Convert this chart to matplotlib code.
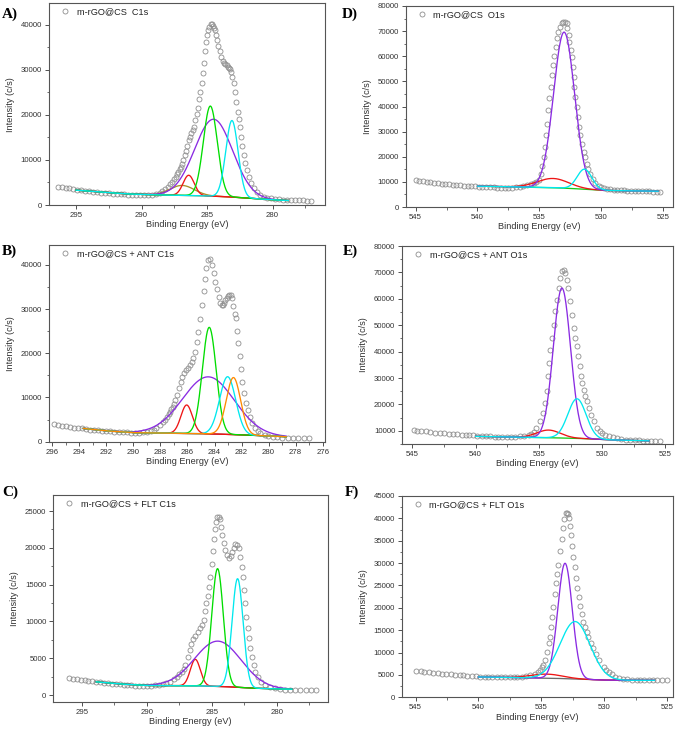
import numpy as np
import matplotlib.pyplot as plt
from matplotlib.ticker import MultipleLocator

plt.rcParams['font.family'] = ['Liberation Sans', 'DejaVu Sans']

# ---------------- A) m-rGO@CS C1s ----------------
a_data = [(296.4, 4100), (296.1, 4000), (295.8, 3850), (295.5, 3700), (295.2, 3550), (294.9, 3400),
          (294.6, 3250), (294.3, 3150), (294.0, 3050), (293.7, 2950), (293.4, 2850), (293.1, 2750),
          (292.8, 2650), (292.5, 2580), (292.2, 2500), (291.9, 2450), (291.6, 2400), (291.3, 2350),
          (291.0, 2300), (290.7, 2250), (290.4, 2220), (290.1, 2200), (289.8, 2200), (289.5, 2230),
          (289.2, 2300), (288.9, 2450), (288.6, 2700), (288.4, 3050), (288.2, 3500), (288.0, 4100),
          (287.85, 4600), (287.7, 5200), (287.55, 5800), (287.4, 6300), (287.3, 6900), (287.2, 7400),
          (287.1, 7950), (287.0, 8500), (286.9, 9200), (286.8, 10000), (286.7, 11000), (286.6, 12000),
          (286.5, 13000), (286.4, 14400), (286.3, 15200), (286.2, 15900), (286.1, 16700), (286.0, 17400),
          (285.9, 18800), (285.8, 20200), (285.7, 21500), (285.6, 23500), (285.5, 25000), (285.4, 27000),
          (285.32, 29300), (285.25, 31600), (285.15, 34100), (285.05, 36100), (284.97, 37800),
          (284.9, 38900), (284.82, 39600), (284.73, 40200), (284.65, 40100), (284.57, 39800),
          (284.5, 39300), (284.42, 38800), (284.34, 37800), (284.24, 36700), (284.14, 35300),
          (284.04, 34100), (283.92, 32900), (283.81, 31900), (283.7, 31600), (283.6, 31300),
          (283.5, 31000), (283.43, 30700), (283.35, 30400), (283.27, 30100), (283.17, 29500),
          (283.07, 28500), (282.97, 27000), (282.87, 25000), (282.77, 22900), (282.66, 20700),
          (282.58, 19000), (282.51, 17400), (282.41, 15200), (282.31, 13000), (282.2, 11000),
          (282.08, 9260), (281.95, 7700), (281.82, 6300), (281.63, 4800), (281.44, 3700), (281.2, 2900),
          (280.95, 2300), (280.68, 1850), (280.4, 1600), (280.1, 1450), (279.8, 1350), (279.5, 1280),
          (279.2, 1200), (278.9, 1130), (278.6, 1100), (278.3, 1060), (278.0, 1030), (277.7, 1000),
          (277.4, 980), (277.1, 960)]
a_bg_be = [295.0, 293.0, 291.0, 289.0, 287.0, 285.5, 284.0, 283.0, 282.0, 281.0, 280.0, 278.8]
a_bg = [3300, 2850, 2450, 2250, 2150, 2050, 1900, 1750, 1550, 1350, 1150, 1000]
a_center = [286.9, 286.4, 284.5, 284.75, 283.1]
a_height = [2200, 4500, 17100, 20000, 17000]
a_fwhm = [2.2, 1.0, 3.4, 1.25, 1.1]

# ---------------- B) m-rGO@CS + ANT C1s ----------------
b_data = [(295.9, 3900), (295.6, 3750), (295.3, 3600), (295.0, 3450), (294.7, 3350), (294.4, 3200),
          (294.1, 3100), (293.8, 3000), (293.5, 2900), (293.2, 2750), (292.9, 2650), (292.6, 2550),
          (292.3, 2450), (292.0, 2400), (291.7, 2340), (291.4, 2280), (291.1, 2200), (290.8, 2150),
          (290.5, 2100), (290.2, 2050), (289.9, 2040), (289.6, 2060), (289.3, 2120), (289.0, 2200),
          (288.7, 2450), (288.5, 2700), (288.3, 3000), (288.05, 3700), (287.8, 4500), (287.65, 5000),
          (287.5, 5660), (287.4, 6200), (287.3, 6800), (287.2, 7300), (287.1, 7900), (287.0, 8600),
          (286.9, 9400), (286.75, 10600), (286.6, 12100), (286.5, 13600), (286.4, 14700),
          (286.25, 15500), (286.1, 16200), (285.95, 16600), (285.8, 17400), (285.7, 18000),
          (285.6, 18900), (285.45, 20400), (285.3, 22600), (285.2, 24900), (285.1, 27700),
          (284.95, 30900), (284.8, 34000), (284.7, 36800), (284.6, 39200), (284.5, 41000),
          (284.35, 41300), (284.2, 40000), (284.05, 38100), (283.95, 36200), (283.85, 34500),
          (283.7, 32700), (283.6, 31300), (283.47, 30900), (283.38, 31000), (283.3, 31300),
          (283.2, 32000), (283.1, 32500), (283.0, 32900), (282.9, 33100), (282.8, 33100),
          (282.7, 32500), (282.6, 30800), (282.5, 29000), (282.41, 27900), (282.32, 25100),
          (282.24, 22260), (282.12, 19390), (282.04, 16380), (281.95, 13570), (281.82, 11090),
          (281.67, 8820), (281.55, 7170), (281.38, 5660), (281.25, 4160), (281.0, 3030), (280.8, 2500),
          (280.64, 2040), (280.3, 1600), (280.02, 1290), (279.7, 1100), (279.4, 990), (279.0, 950),
          (278.6, 930), (278.2, 920), (277.8, 910), (277.4, 900), (277.0, 890)]
b_bg_be = [293.7, 292.0, 290.0, 288.0, 286.0, 284.0, 282.0, 280.0, 278.7]
b_bg = [3000, 2450, 2050, 1950, 1850, 1750, 1550, 1300, 1130]
b_center = [286.06, 284.46, 284.39, 283.03, 282.6]
b_height = [6450, 12900, 24100, 13050, 12900]
b_fwhm = [1.0, 4.5, 1.2, 1.4, 1.25]

# ---------------- C) m-rGO@CS + FLT C1s ----------------
c_data = [(296.0, 2350), (295.7, 2250), (295.4, 2170), (295.1, 2100), (294.8, 2050), (294.5, 1980),
          (294.2, 1880), (293.9, 1800), (293.6, 1720), (293.3, 1680), (293.0, 1620), (292.7, 1560),
          (292.4, 1500), (292.1, 1450), (291.8, 1400), (291.5, 1360), (291.2, 1320), (290.9, 1300),
          (290.6, 1280), (290.3, 1270), (290.0, 1270), (289.7, 1290), (289.4, 1330), (289.1, 1390),
          (288.8, 1500), (288.5, 1670), (288.21, 1810), (287.95, 2150), (287.69, 2490), (287.5, 2800),
          (287.31, 3170), (287.18, 3600), (287.05, 4080), (286.87, 5210), (286.72, 6120),
          (286.59, 6930), (286.46, 7570), (286.28, 8020), (286.1, 8610), (285.95, 9060),
          (285.77, 9510), (285.64, 10190), (285.57, 11460), (285.44, 12460), (285.34, 13450),
          (285.26, 14720), (285.13, 16000), (285.03, 17800), (284.95, 19570), (284.87, 21160),
          (284.8, 22560), (284.72, 23550), (284.62, 24150), (284.49, 24230), (284.42, 23870),
          (284.31, 22870), (284.23, 21740), (284.1, 20700), (283.98, 19700), (283.85, 19030),
          (283.7, 18570), (283.54, 18890), (283.44, 19480), (283.34, 20020), (283.21, 20470),
          (283.08, 20380), (282.95, 19930), (282.82, 18800), (282.69, 17440), (282.62, 15990),
          (282.52, 14270), (282.44, 12460), (282.36, 10640), (282.26, 9060), (282.18, 7700),
          (282.05, 6340), (281.92, 5210), (281.8, 4080), (281.67, 3170), (281.49, 2490),
          (281.23, 1810), (280.9, 1360), (280.52, 1040), (280.15, 900), (279.75, 815), (279.4, 750),
          (278.98, 680), (278.6, 680), (278.2, 680), (277.8, 680), (277.4, 680), (277.0, 680)]
c_bg_be = [293.9, 292.0, 290.0, 288.0, 286.0, 284.0, 282.0, 280.0, 278.85]
c_bg = [1800, 1500, 1300, 1280, 1250, 1150, 950, 830, 800]
c_center = [286.28, 284.54, 284.57, 283.03]
c_height = [3600, 6150, 16000, 14760]
c_fwhm = [0.9, 4.2, 1.05, 1.0]

# ---------------- D) m-rGO@CS O1s ----------------
d_data = [(545.0, 10630), (544.7, 10400), (544.4, 10230), (544.1, 10000), (543.8, 9800), (543.5, 9600),
          (543.2, 9450), (542.9, 9300), (542.6, 9150), (542.3, 9050), (542.0, 8950), (541.7, 8800),
          (541.4, 8650), (541.1, 8550), (540.8, 8450), (540.5, 8300), (540.2, 8200), (539.9, 8100),
          (539.6, 8000), (539.3, 7900), (539.0, 7850), (538.7, 7800), (538.4, 7750), (538.1, 7720),
          (537.8, 7700), (537.5, 7700), (537.2, 7720), (536.9, 7800), (536.6, 7950), (536.3, 8200),
          (536.0, 8600), (535.7, 9000), (535.45, 9500), (535.27, 9900), (535.03, 10630),
          (534.86, 13290), (534.76, 16210), (534.62, 19930), (534.54, 23920), (534.46, 28570),
          (534.35, 33220), (534.27, 38540), (534.19, 43190), (534.08, 47840), (534.0, 52490),
          (533.92, 56480), (533.81, 60070), (533.65, 63790), (533.59, 67110), (533.46, 69500),
          (533.32, 71770), (533.19, 73100), (533.05, 73760), (532.92, 73760), (532.78, 73100),
          (532.73, 71100), (532.62, 68440), (532.57, 65790), (532.46, 62460), (532.38, 59800),
          (532.3, 55820), (532.24, 51830), (532.16, 47840), (532.08, 43860), (531.97, 39870),
          (531.89, 35880), (531.78, 31900), (531.7, 28570), (531.57, 25250), (531.43, 21930),
          (531.3, 19930), (531.16, 17280), (531.03, 15280), (530.89, 13290), (530.7, 11300),
          (530.49, 9570), (530.22, 8240), (530.0, 7800), (529.81, 7580), (529.5, 7250), (529.27, 7040),
          (529.0, 6900), (528.7, 6800), (528.4, 6700), (528.19, 6650), (527.9, 6550), (527.6, 6500),
          (527.3, 6450), (527.0, 6400), (526.7, 6350), (526.4, 6300), (526.1, 6200), (525.8, 6100),
          (525.5, 6050), (525.22, 5980)]
d_bg_be = [540.0, 537.0, 535.0, 533.5, 532.5, 531.5, 530.5, 529.5, 528.0, 525.4]
d_bg = [8300, 8000, 7800, 7600, 7400, 7100, 6800, 6600, 6450, 6300]
d_center = [533.9, 533.0, 531.35]
d_height = [3700, 62100, 8000]
d_fwhm = [3.0, 2.0, 1.4]

# ---------------- E) m-rGO@CS + ANT O1s ----------------
e_data = [(544.9, 10130), (544.6, 10000), (544.3, 9870), (543.9, 9750), (543.6, 9550), (543.2, 9300),
          (542.8, 9120), (542.5, 9000), (542.1, 8850), (541.8, 8800), (541.5, 8740), (541.1, 8550),
          (540.8, 8400), (540.5, 8300), (540.2, 8230), (539.9, 8100), (539.5, 8000), (539.2, 7900),
          (538.9, 7850), (538.5, 7750), (538.2, 7700), (537.9, 7650), (537.5, 7600), (537.2, 7620),
          (536.9, 7700), (536.5, 7850), (536.2, 8100), (535.8, 8480), (535.6, 8850), (535.4, 9370),
          (535.2, 11010), (534.9, 13540), (534.7, 16700), (534.55, 20480), (534.4, 24900),
          (534.3, 30590), (534.2, 35640), (534.1, 40690), (533.94, 45110), (533.84, 50160),
          (533.7, 55210), (533.58, 59640), (533.44, 64060), (533.36, 67850), (533.18, 70370),
          (533.05, 71000), (532.92, 69740), (532.78, 67210), (532.68, 64060), (532.52, 59000),
          (532.39, 53950), (532.26, 48900), (532.12, 45110), (531.99, 41950), (531.89, 38160),
          (531.78, 34380), (531.68, 30840), (531.57, 28060), (531.46, 25540), (531.33, 23260),
          (531.2, 21110), (531.04, 18590), (530.88, 16060), (530.67, 13540), (530.41, 11010),
          (530.2, 9900), (530.01, 9120), (529.75, 8400), (529.49, 7850), (529.15, 7500), (528.83, 7220),
          (528.5, 6950), (528.1, 6700), (527.77, 6590), (527.4, 6450), (527.1, 6350), (526.8, 6270),
          (526.45, 6210), (526.1, 6100), (525.8, 6030), (525.4, 5960)]
e_bg_be = [540.0, 537.0, 535.0, 533.5, 532.5, 531.5, 530.5, 529.5, 528.0, 526.3]
e_bg = [7900, 7600, 7450, 7300, 7200, 7050, 6850, 6600, 6400, 6200]
e_center = [534.23, 533.18, 531.99]
e_height = [2900, 56800, 15000]
e_fwhm = [2.2, 1.6, 1.7]

# ---------------- F) m-rGO@CS + FLT O1s ----------------
f_data = [(545.0, 5890), (544.6, 5800), (544.3, 5700), (543.9, 5590), (543.6, 5480), (543.2, 5370),
          (542.9, 5290), (542.55, 5220), (542.2, 5120), (541.9, 5020), (541.5, 4950), (541.2, 4920),
          (540.9, 4850), (540.5, 4750), (540.2, 4680), (539.9, 4620), (539.5, 4560), (539.2, 4520),
          (538.9, 4490), (538.56, 4470), (538.2, 4460), (537.9, 4460), (537.5, 4460), (537.2, 4470),
          (536.9, 4520), (536.5, 4620), (536.2, 4770), (535.9, 4950), (535.5, 5220), (535.3, 5600),
          (535.1, 6110), (534.95, 6700), (534.84, 7230), (534.7, 8340), (534.57, 10210),
          (534.41, 12070), (534.3, 13560), (534.23, 15790), (534.12, 18030), (534.04, 20260),
          (533.91, 23020), (533.83, 25480), (533.74, 27500), (533.64, 29580), (533.51, 32780),
          (533.38, 35390), (533.3, 37770), (533.17, 39780), (533.03, 41120), (532.95, 41300),
          (532.87, 40900), (532.8, 40010), (532.72, 38290), (532.62, 36280), (532.53, 33820),
          (532.45, 31440), (532.31, 29060), (532.23, 26600), (532.13, 24360), (532.02, 22350),
          (531.91, 20410), (531.78, 18630), (531.65, 16910), (531.52, 15790), (531.38, 14680),
          (531.25, 13560), (531.06, 12220), (530.85, 10950), (530.64, 9690), (530.37, 8340),
          (530.05, 6850), (529.85, 6200), (529.65, 5590), (529.4, 5100), (529.12, 4620), (528.8, 4300),
          (528.5, 4100), (528.19, 4020), (527.8, 3950), (527.4, 3900), (527.13, 3870), (526.8, 3870),
          (526.4, 3870), (526.1, 3870), (525.8, 3870), (525.4, 3870), (525.0, 3870)]
f_bg_be = [540.0, 537.0, 535.0, 534.0, 533.0, 532.0, 531.0, 530.0, 528.0, 526.0]
f_bg = [4550, 4400, 4300, 4250, 4150, 4050, 3950, 3850, 3800, 3800]
f_center = [534.57, 533.11, 532.31]
f_height = [900, 25800, 12860]
f_fwhm = [3.0, 1.35, 2.8]

GREEN, PURPLE, CYAN, RED, ORANGE, OLIVE = '#00dd00', '#8a2be2', '#00e8ee', '#ee1515', '#ff8a00', '#a8922a'

W, H = 677, 730
fig = plt.figure(figsize=(W / 100, H / 100), dpi=100)


def add_panel(box, letter, letter_xy, data, bg_be, bg, centers, heights, fwhms, colors, bg_color,
              label, xlim, ylim, xmaj, xmin, ymaj):
    l, t, r, b = box
    ax = fig.add_axes([l / W, 1 - b / H, (r - l) / W, (b - t) / H])
    be, cps = zip(*data)
    ax.plot(be, cps, 'o', ms=3.6, mfc='none', mec='#8e8e8e', mew=0.6, label=label, zorder=2)

    grid = np.linspace(bg_be[0], bg_be[-1], 500)
    base = np.interp(grid, bg_be[::-1], bg[::-1])
    ax.plot(grid, base, color=bg_color, lw=0.95, zorder=3)
    for c, h, w, col in zip(centers, heights, fwhms, colors):
        s = w / 2.3548
        ax.plot(grid, base + h * np.exp(-0.5 * ((grid - c) / s) ** 2), color=col, lw=0.95, zorder=3)

    ax.set_xlim(*xlim)
    ax.set_ylim(*ylim)
    ax.xaxis.set_major_locator(MultipleLocator(xmaj))
    ax.xaxis.set_minor_locator(MultipleLocator(xmin))
    ax.yaxis.set_major_locator(MultipleLocator(ymaj))
    ax.yaxis.set_minor_locator(MultipleLocator(ymaj / 2))
    ax.tick_params(which='both', direction='out', top=False, right=False,
                   labelsize=5.6, colors='#333333', pad=2)
    ax.tick_params(which='major', length=3, width=0.6)
    ax.tick_params(which='minor', length=1.8, width=0.5)
    for sp in ax.spines.values():
        sp.set_color('#555555')
        sp.set_linewidth(0.8)
    ax.set_xlabel('Binding Energy (eV)', fontsize=6.6, color='#333333', labelpad=1)
    ax.set_ylabel('Intensity (c/s)', fontsize=6.6, color='#333333', labelpad=4)

    wpx, hpx = r - l, b - t
    ax.legend(loc='upper left', bbox_to_anchor=(12.0 / wpx, 1 - 4.0 / hpx), borderaxespad=0,
              borderpad=0, handlelength=0.9, handletextpad=0.8, frameon=False, fontsize=6.6,
              labelcolor='#222222')

    fig.text(letter_xy[0] / W, 1 - letter_xy[1] / H, letter, family='Liberation Serif',
             weight='bold', fontsize=11, ha='center', va='center')
    return ax


add_panel((49, 3.3, 325, 205), 'A)', (10, 14), a_data, a_bg_be, a_bg, a_center, a_height, a_fwhm,
          [OLIVE, RED, PURPLE, GREEN, CYAN], '#857a2c', 'm-rGO@CS  C1s',
          (297.06, 276.0), (0, 44800), 5, 2.5, 10000)
add_panel((49, 245, 325, 441.7), 'B)', (9, 251), b_data, b_bg_be, b_bg, b_center, b_height, b_fwhm,
          [RED, PURPLE, GREEN, CYAN, ORANGE], '#8b2525', 'm-rGO@CS + ANT C1s',
          (296.24, 275.83), (0, 44500), 2, 1, 10000)
add_panel((53.3, 495, 327.7, 701.7), 'C)', (10, 492), c_data, c_bg_be, c_bg, c_center, c_height, c_fwhm,
          [RED, PURPLE, GREEN, CYAN], '#8b2525', 'm-rGO@CS + FLT C1s',
          (297.2, 276.1), (-900, 27180), 5, 2.5, 5000)
add_panel((405.7, 6, 673, 207), 'D)', (350, 14), d_data, d_bg_be, d_bg, d_center, d_height, d_fwhm,
          [RED, PURPLE, CYAN], '#19c819', 'm-rGO@CS  O1s',
          (545.8, 524.2), (0, 80000), 5, 2.5, 10000)
add_panel((402.3, 246, 673, 444), 'E)', (350, 251), e_data, e_bg_be, e_bg, e_center, e_height, e_fwhm,
          [RED, PURPLE, CYAN], '#19c819', 'm-rGO@CS + ANT O1s',
          (545.8, 524.4), (5000, 80000), 5, 2.5, 10000)
add_panel((401.7, 496, 673.3, 697.3), 'F)', (352, 492), f_data, f_bg_be, f_bg, f_center, f_height, f_fwhm,
          [RED, PURPLE, CYAN], '#6a6a6a', 'm-rGO@CS + FLT O1s',
          (546.1, 524.5), (0, 45000), 5, 2.5, 5000)

fig.savefig('out.png', dpi=100)
